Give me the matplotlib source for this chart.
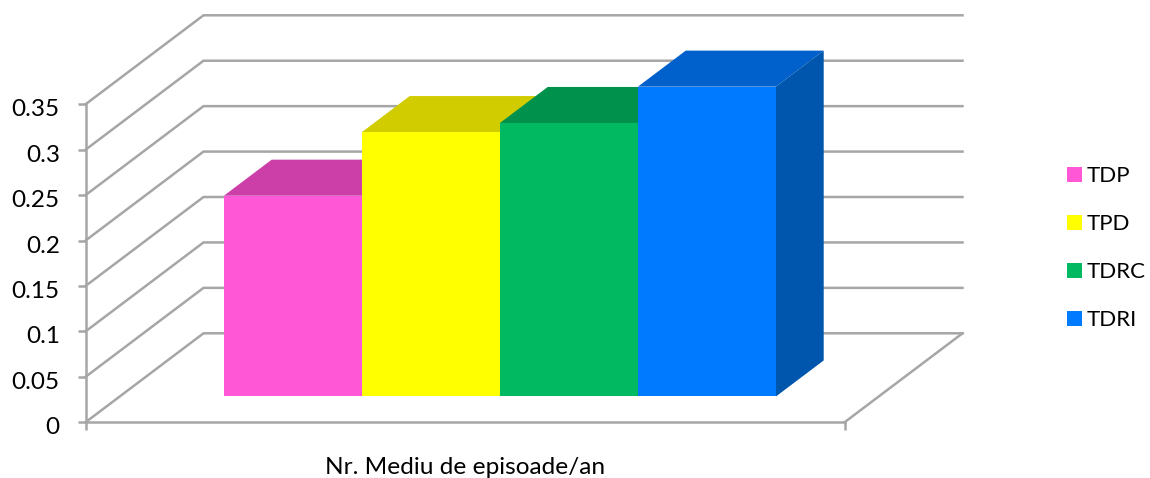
import matplotlib
matplotlib.use("Agg")
import matplotlib.pyplot as plt
from matplotlib.patches import Polygon, Patch
from matplotlib.transforms import ScaledTranslation

plt.rcParams['font.family'] = ['Lato', 'DejaVu Sans']

names = ['TDP', 'TPD', 'TDRC', 'TDRI']
values = [0.221, 0.291, 0.301, 0.341]
front_colors = ['#ff57d5', '#ffff00', '#00b961', '#007bff']
top_colors = ['#cc3fa8', '#d0cc00', '#00924d', '#0060cc']
side_colors = ['#a83590', '#a8a500', '#00783f', '#0055ad']
y_ticks = [0, 0.05, 0.1, 0.15, 0.2, 0.25, 0.3, 0.35]
y_labels = ['0', '0.05', '0.1', '0.15', '0.2', '0.25', '0.3', '0.35']
x_title = 'Nr. Mediu de episoade/an'

W, H = 1150, 478
GREY = '#a6a6a6'
fig = plt.figure(figsize=(W / 100, H / 100), dpi=100)
# front plane of the box is the real axes, the rest is sheared off it
ax = fig.add_axes([85.5 / W, (H - 422.3) / H, 759 / W, 318 / H])
ax.set_xlim(0, 1)
ax.set_ylim(0, 0.35)

# shear for the full depth of the box, in data units
DX = 118 / 759
DY = 89 / (318 / 0.35)


def proj(x, v, d):
    return x + d * DX, v + d * DY


# floor and wall gridlines
for v in y_ticks:
    xs, ys = zip(proj(0, v, 0), proj(0, v, 1), proj(1, v, 1))
    ax.plot(xs, ys, color=GREY, lw=1.8, clip_on=False, zorder=1, solid_joinstyle='miter')
x1, y1 = zip(proj(1, 0, 0), proj(1, 0, 1))
ax.plot(x1, y1, color=GREY, lw=1.8, clip_on=False, zorder=1)

# 3d bars, each drawn over the previous one
bar_w = 1 / (4 + 2 * 0.75)
d0, d1 = 0.29, 0.695
start = 0.755 * bar_w
for i, v in enumerate(values):
    left = start + i * bar_w + d0 * DX
    right = left + bar_w
    base = d0 * DY
    top = base + v
    z = 3 + i
    ax.add_patch(Polygon([(left, top), (right, top),
                          (right + (d1 - d0) * DX, top + (d1 - d0) * DY),
                          (left + (d1 - d0) * DX, top + (d1 - d0) * DY)],
                         closed=True, fc=top_colors[i], ec='none', clip_on=False, zorder=z))
    ax.add_patch(Polygon([(right, base), (right, top),
                          (right + (d1 - d0) * DX, top + (d1 - d0) * DY),
                          (right + (d1 - d0) * DX, base + (d1 - d0) * DY)],
                         closed=True, fc=side_colors[i], ec='none', clip_on=False, zorder=z))
    ax.bar(left, v, width=bar_w, bottom=base, align='edge', color=front_colors[i],
           clip_on=False, zorder=z + 0.5)

for s in ['top', 'right']:
    ax.spines[s].set_visible(False)
for s in ['left', 'bottom']:
    ax.spines[s].set_color(GREY)
    ax.spines[s].set_linewidth(1.8)
    ax.spines[s].set_zorder(2)

ax.set_yticks(y_ticks)
ax.set_yticklabels(y_labels, fontsize=17.5, color='black')
ax.set_xticks([0, 1])
ax.set_xticklabels(['', ''])
ax.tick_params(axis='both', color=GREY, width=1.8, length=6)
ax.tick_params(axis='y', pad=12.5)
ax.patch.set_visible(False)

# nudge the value labels down a little
nudge = ScaledTranslation(0, -2.5 / 72, fig.dpi_scale_trans)
for lab in ax.get_yticklabels():
    lab.set_transform(lab.get_transform() + nudge)

fig.text(465 / W, 1 - 468 / H, x_title, fontsize=17.6, ha='center', va='center')

handles = [Patch(fc=c, ec='none', label=n) for c, n in zip(front_colors, names)]
fig.legend(handles=handles, loc='center left', bbox_to_anchor=(1067 / W, 1 - 248.5 / H),
           frameon=False, fontsize=16, handlelength=0.68, handleheight=0.68,
           handletextpad=0.22, labelspacing=1.26, borderpad=0, borderaxespad=0)

fig.savefig('out.png', dpi=100)
